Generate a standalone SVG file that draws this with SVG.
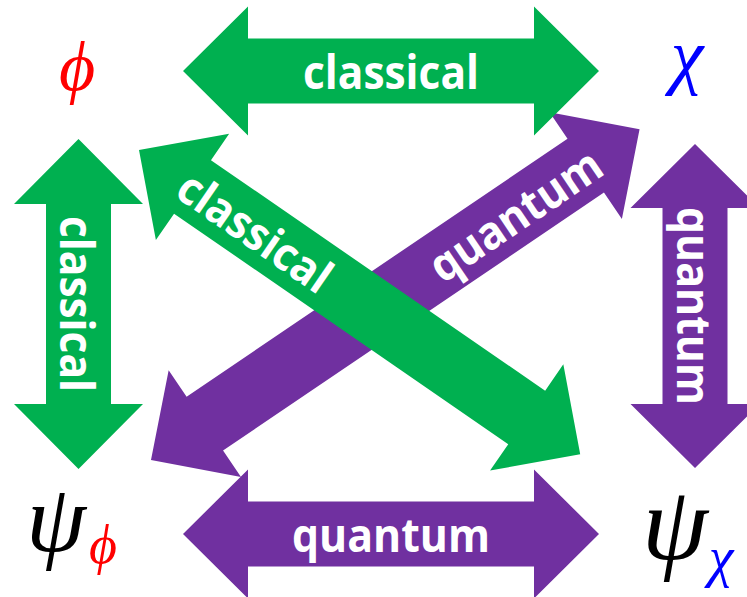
<svg xmlns="http://www.w3.org/2000/svg" width="747" height="597" viewBox="0 0 747 597">
<style>
.g{fill:#00B050}
.p{fill:#7030A0}
.t{fill:#fff;font-family:"Open Sans","Noto Sans",sans-serif;font-weight:bold;font-size:46px;text-anchor:middle}
.m{font-family:"Liberation Serif","DejaVu Serif",serif;font-style:italic;text-anchor:middle}
</style>
<rect width="747" height="597" fill="#fff"/>
<g id="connectors">
<g id="q-bottom" transform="translate(183,534)">
<polygon class="p" points="0,0 65,-64.5 65,-32.5 351,-32.5 351,-64.5 416,0 351,64.5 351,32.5 65,32.5 65,64.5"/>
<text class="t" x="208" y="18" textLength="198" lengthAdjust="spacingAndGlyphs">quantum</text>
</g>
<g id="q-right" transform="translate(695,144) rotate(90)">
<polygon class="p" points="0,0 64,-64.5 64,-32.5 260,-32.5 260,-64.5 324,0 260,64.5 260,32.5 64,32.5 64,64.5"/>
<text class="t" x="162" y="18" textLength="198" lengthAdjust="spacingAndGlyphs">quantum</text>
</g>
<g id="q-diag" transform="translate(151,460) rotate(-34.1)">
<polygon class="p" points="0,0 65,-64.5 65,-32.5 525,-32.5 525,-64.5 590,0 525,64.5 525,32.5 65,32.5 65,64.5"/>
<text class="t" x="439" y="18" textLength="198" lengthAdjust="spacingAndGlyphs">quantum</text>
</g>
<g id="c-top" transform="translate(183,71)">
<polygon class="g" points="0,0 65,-64.5 65,-32.5 351,-32.5 351,-64.5 416,0 351,64.5 351,32.5 65,32.5 65,64.5"/>
<text class="t" x="208" y="18" textLength="176" lengthAdjust="spacingAndGlyphs">classical</text>
</g>
<g id="c-left" transform="translate(78.5,139) rotate(90)">
<polygon class="g" points="0,0 65,-64.5 65,-32.5 265,-32.5 265,-64.5 330,0 265,64.5 265,32.5 65,32.5 65,64.5"/>
<text class="t" x="165" y="18.5" textLength="176" lengthAdjust="spacingAndGlyphs">classical</text>
</g>
<g id="c-diag" transform="translate(139,150) rotate(34.6)">
<polygon class="g" points="0,0 65,-64.5 65,-32.5 471,-32.5 471,-64.5 536,0 471,64.5 471,32.5 65,32.5 65,64.5"/>
<text class="t" x="142" y="18" textLength="176" lengthAdjust="spacingAndGlyphs">classical</text>
</g>
</g>
<g id="phi"><text class="m" x="77" y="90" font-size="70" fill="#f00">ϕ</text></g>
<g id="chi"><text class="m" x="687" y="80" font-size="74" fill="#00f">χ</text></g>
<g id="psi-phi">
<text class="m" x="56" y="551" font-size="96" fill="#000">ψ</text>
<text class="m" x="103" y="563" font-size="54" fill="#f00">ϕ</text>
</g>
<g id="psi-chi">
<text class="m" x="675" y="559" font-size="106" fill="#000">ψ</text>
<text class="m" x="721" y="576" font-size="56" fill="#00f">χ</text>
</g>
</svg>
